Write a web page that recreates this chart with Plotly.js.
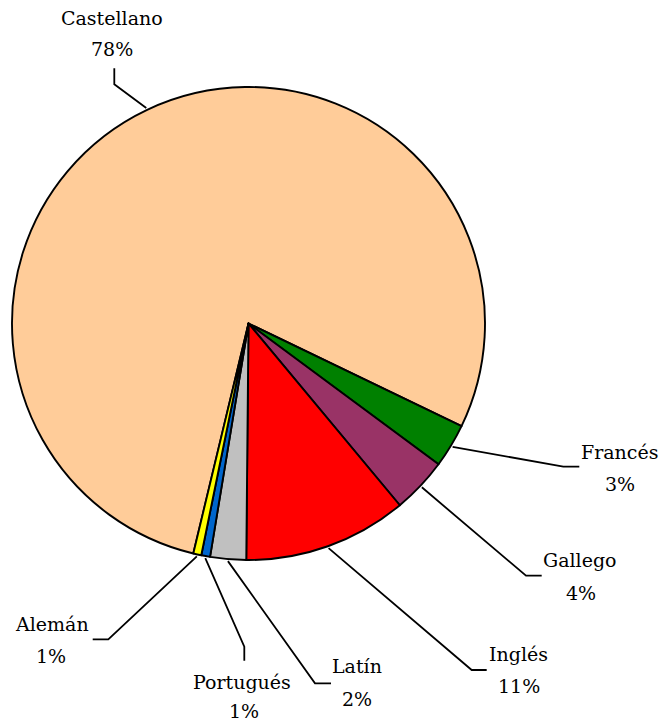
<!DOCTYPE html>
<html><head><meta charset="utf-8">
<script src="https://cdn.plot.ly/plotly-3.0.1.min.js"></script>
<style>html,body{margin:0;padding:0;background:#fff}</style>
</head><body><div id="chart" style="width:659px;height:723px"></div>
<script>
// ---- data ----
const languages = ['Castellano', 'Francés', 'Gallego', 'Inglés', 'Latín', 'Portugués', 'Alemán'];
const shares = [78.4, 3.0, 3.8, 11.2, 2.45, 0.6, 0.55];
const percentLabels = ['78%', '3%', '4%', '11%', '2%', '1%', '1%'];
const sliceColors = ['#FFCC99', '#008000', '#993366', '#FF0000', '#C0C0C0', '#0066CC', '#FFFF00'];

// ---- layout settings (pixels) ----
const W = 659, H = 723;
const pieRotation = 193.5;
const pieBox = {x0: 12, x1: 485, y0: 87, y1: 560};
// label line centres (name, percent), leader elbow and leader end for each slice
const labelLayout = [
  {nx: 112,   ny: 18,  px: 112,   py: 49,  elbow: [114.3, 84.3],  end: [114.3, 68.3]},
  {nx: 619.5, ny: 452, px: 620,   py: 484, elbow: [563.3, 466.7], end: [579.3, 466.7]},
  {nx: 580,   ny: 560, px: 580.5, py: 593, elbow: [526, 575.7],   end: [541.7, 575.7]},
  {nx: 518,   ny: 654, px: 519,   py: 686, elbow: [471.7, 670],   end: [486.7, 670]},
  {nx: 357,   ny: 666, px: 357,   py: 699, elbow: [315, 683.3],   end: [331, 683.3]},
  {nx: 242,   ny: 682, px: 243.5, py: 711, elbow: [244.3, 646.7], end: [244.3, 660.7]},
  {nx: 52,    ny: 624, px: 51,    py: 656, elbow: [108.3, 639.3], end: [92.7, 639.3]}
];
const labelFont = {family: 'DejaVu Serif', size: 19, color: '#000000'};

const cx = (pieBox.x0 + pieBox.x1) / 2;
const cy = (pieBox.y0 + pieBox.y1) / 2;
const R = (pieBox.x1 - pieBox.x0) / 2;
const total = shares.reduce((a, b) => a + b, 0);

const traces = [{
  type: 'pie',
  labels: languages,
  values: shares,
  sort: false,
  direction: 'clockwise',
  rotation: pieRotation,
  textinfo: 'none',
  hoverinfo: 'label+percent',
  showlegend: false,
  marker: {colors: sliceColors, line: {color: '#000000', width: 1.9}},
  domain: {x: [pieBox.x0 / W, pieBox.x1 / W], y: [1 - pieBox.y1 / H, 1 - pieBox.y0 / H]}
}];

const annotations = [];
let cum = 0;
shares.forEach((v, i) => {
  const mid = (pieRotation + 360 * (cum + v / 2) / total) * Math.PI / 180;
  cum += v;
  const sx = cx + (R + 2) * Math.sin(mid);
  const sy = cy - (R + 2) * Math.cos(mid);
  const L = labelLayout[i];
  traces.push({
    type: 'scatter', mode: 'lines', xaxis: 'x', yaxis: 'y',
    x: [sx, L.elbow[0], L.end[0]],
    y: [sy, L.elbow[1], L.end[1]],
    line: {color: '#000000', width: 1.8},
    hoverinfo: 'skip', showlegend: false
  });
  annotations.push({
    xref: 'x', yref: 'y', x: L.nx, y: L.ny,
    xanchor: 'center', yanchor: 'middle', showarrow: false,
    text: languages[i], font: labelFont
  });
  annotations.push({
    xref: 'x', yref: 'y', x: L.px, y: L.py,
    xanchor: 'center', yanchor: 'middle', showarrow: false,
    text: percentLabels[i], font: labelFont
  });
});

const layout = {
  width: W, height: H,
  margin: {l: 0, r: 0, t: 0, b: 0},
  paper_bgcolor: '#ffffff', plot_bgcolor: 'rgba(0,0,0,0)',
  showlegend: false,
  font: {family: 'DejaVu Serif'},
  xaxis: {range: [0, W], visible: false, fixedrange: true},
  yaxis: {range: [H, 0], visible: false, fixedrange: true},
  annotations: annotations
};

Plotly.newPlot('chart', traces, layout, {displayModeBar: false, staticPlot: true});
</script>
</body></html>
